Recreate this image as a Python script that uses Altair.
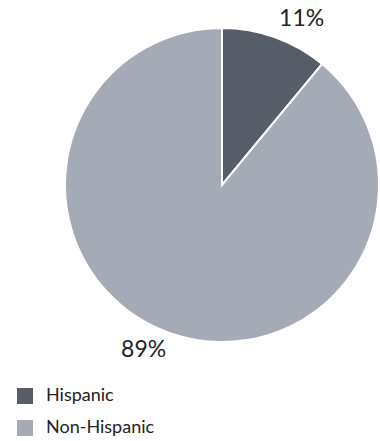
import altair as alt
import pandas as pd

categories = ["Hispanic", "Non-Hispanic"]
shares = [11, 89]
labels = ["11%", "89%"]
colors = ["#565d69", "#a4abb7"]

df = pd.DataFrame({"group": categories, "share": shares, "label": labels, "order": [0, 1]})

pie = alt.Chart(df).mark_arc(stroke="white", strokeWidth=2).encode(
    theta=alt.Theta("share:Q", stack=True, scale=alt.Scale(domain=[0, 100])),
    order=alt.Order("order:Q"),
    x=alt.value(222),
    y=alt.value(185),
    radius=alt.value(157),
    color=alt.Color(
        "group:N",
        scale=alt.Scale(domain=categories, range=colors),
        sort=categories,
        legend=alt.Legend(
            title=None,
            orient="none",
            legendX=16,
            legendY=387,
            symbolType="square",
            symbolSize=256,
            symbolStrokeWidth=0,
            labelFont="Lato",
            labelFontSize=18,
            labelColor="#222222",
            labelOffset=12,
            rowPadding=14,
            padding=0,
        ),
    ),
)

text_base = (
    alt.Chart(df)
    .transform_window(cum="sum(share)", sort=[alt.SortField("order")], frame=[None, 0])
    .transform_calculate(mid="datum.cum - datum.share / 2")
)

lab11 = text_base.transform_filter(alt.datum.group == "Hispanic").mark_text(
    font="Lato", fontSize=23, color="#222222", dx=18, dy=5
).encode(
    theta=alt.Theta("mid:Q", scale=alt.Scale(domain=[0, 100])),
    x=alt.value(222), y=alt.value(185), radius=alt.value(182), text="label:N",
)

lab89 = text_base.transform_filter(alt.datum.group == "Non-Hispanic").mark_text(
    font="Lato", fontSize=23, color="#222222", dx=-14, dy=-14
).encode(
    theta=alt.Theta("mid:Q", scale=alt.Scale(domain=[0, 100])),
    x=alt.value(222), y=alt.value(185), radius=alt.value(190), text="label:N",
)

chart = alt.layer(pie, lab11, lab89).properties(
    width=380, height=441, autosize="none", padding=0
).configure_view(stroke=None)

chart.save("out.html", embed_options={"renderer": "svg", "actions": False})
